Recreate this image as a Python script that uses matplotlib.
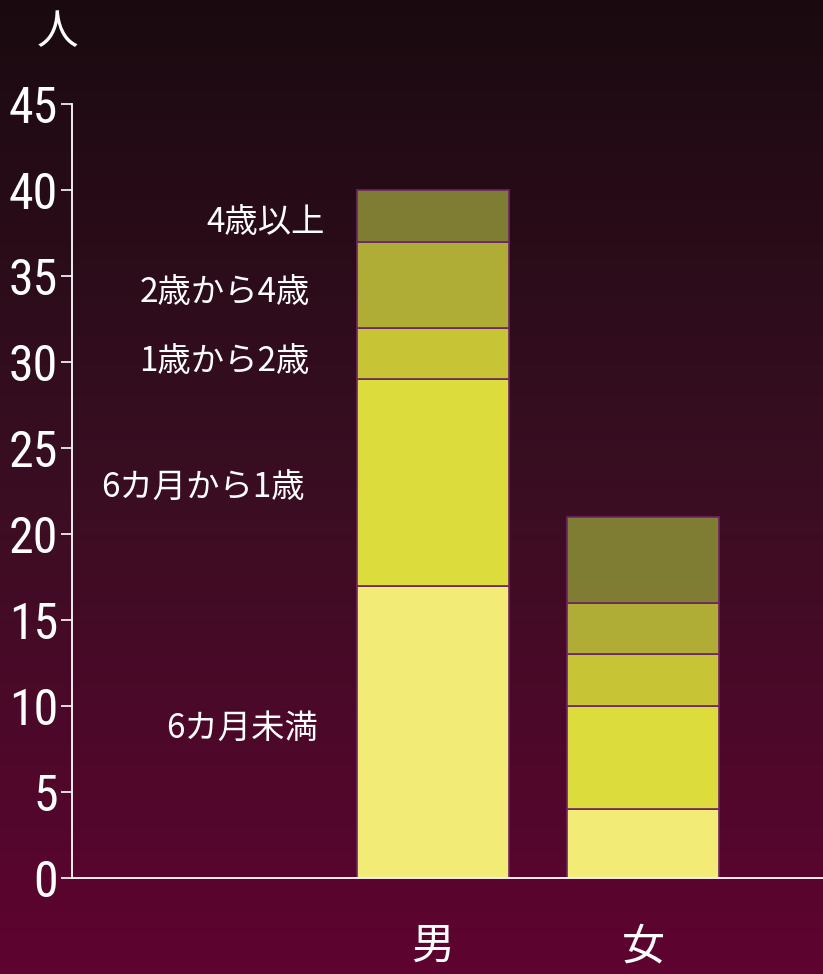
import numpy as np
import matplotlib
matplotlib.use("Agg")
import matplotlib.pyplot as plt
from matplotlib.colors import LinearSegmentedColormap
from matplotlib import font_manager

plt.rcParams['font.family'] = ['Noto Sans CJK JP', 'DejaVu Sans']

# data
genders = ["男", "女"]
age_groups = ["6カ月未満", "6カ月から1歳", "1歳から2歳", "2歳から4歳", "4歳以上"]
counts_male = [17, 12, 3, 5, 3]
counts_female = [4, 6, 3, 3, 5]
yticks = [0, 5, 10, 15, 20, 25, 30, 35, 40, 45]

colors = ["#f2ec76", "#dcdc3c", "#c7c535", "#afad36", "#7e7d33"]
edge = "#6e2466"

# narrow face for the numbers, if one is present
names = {f.name for f in font_manager.fontManager.ttflist}
narrow = None
for cand in ["Liberation Sans Narrow", "Roboto Condensed", "Open Sans Condensed", "DejaVu Sans Condensed"]:
    if cand in names:
        narrow = cand
        break

fig = plt.figure(figsize=(8.23, 9.74), dpi=100)

# vertical background gradient
bg = fig.add_axes([0, 0, 1, 1], zorder=0)
cmap = LinearSegmentedColormap.from_list("bg", ["#1a0a10", "#3a0e22", "#5f0330"])
grad = np.linspace(0, 1, 256).reshape(-1, 1)
bg.imshow(grad, aspect="auto", cmap=cmap, extent=[0, 1, 0, 1], origin="upper")
bg.axis("off")

W, H = 823, 974
left, right, bottom, top = 72, 823, 878, 104
ax = fig.add_axes([left / W, 1 - bottom / H, (right - left) / W, (bottom - top) / H], zorder=1)
ax.patch.set_alpha(0)

x = np.arange(len(genders))
data = np.array([counts_male, counts_female]).T
base = np.zeros(len(genders))
for i, name in enumerate(age_groups):
    ax.bar(x, data[i], width=0.72, bottom=base, color=colors[i],
           edgecolor=edge, linewidth=1.2, zorder=2)
    base += data[i]

ax.set_xlim(-1.719, 1.857)
ax.set_ylim(0, 45)
ax.set_yticks(yticks)
if narrow:
    tick_kw = dict(family=[narrow, 'DejaVu Sans'], fontsize=36)
else:
    tick_kw = dict(fontsize=34)
ax.set_yticklabels([str(t) for t in yticks], color="white", **tick_kw)
ax.set_xticks(x)
ax.set_xticklabels(genders, fontsize=31, color="white")
ax.tick_params(axis="x", length=0, pad=34)
ax.tick_params(axis="y", length=8, width=1.2, color="white", direction="out", pad=2)

for s in ["top", "right"]:
    ax.spines[s].set_visible(False)
for s in ["left", "bottom"]:
    ax.spines[s].set_color("white")
    ax.spines[s].set_linewidth(1.3)

# category labels beside the male bar
mids = np.cumsum(counts_male) - np.array(counts_male) / 2
label_right = [318, 305, 310, 310, 325]
label_shift = [0.2, -0.3, -0.45, -0.45, -0.4]
for name, m, xr, dy in zip(age_groups, mids, label_right, label_shift):
    ax.text((xr - left) / (right - left), m + dy, name, transform=ax.get_yaxis_transform(),
            ha="right", va="center", fontsize=24, color="white")

fig.text(57 / W, 1 - 33 / H, "人", fontsize=30, color="white", ha="center", va="center")

fig.savefig("out.png", dpi=100)
